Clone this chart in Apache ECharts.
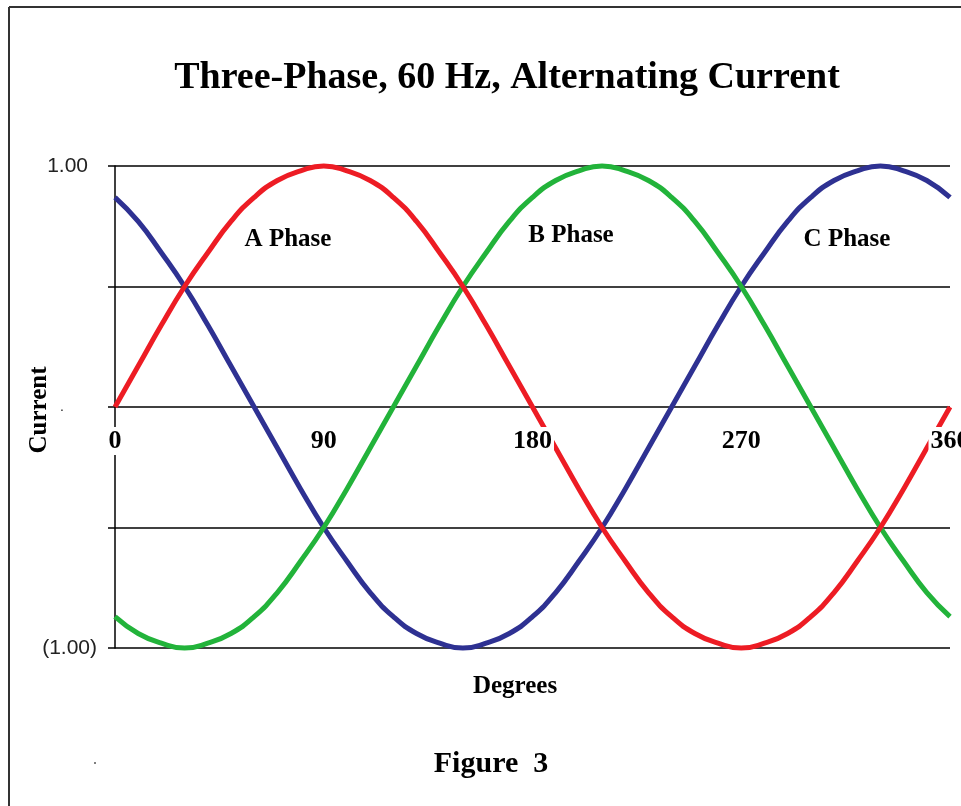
<!DOCTYPE html>
<html>
<head>
<meta charset="utf-8">
<script src="https://cdn.jsdelivr.net/npm/echarts@6/dist/echarts.min.js"></script>
<style>
  html, body { margin: 0; padding: 0; background: #fff; }
  #chart { width: 961px; height: 806px; }
</style>
</head>
<body>
<div id="chart"></div>
<script>
// Electrical angle in degrees (one full cycle)
const degrees = [0, 10, 20, 30, 40, 50, 60, 70, 80, 90, 100, 110, 120, 130, 140, 150, 160, 170, 180,
                 190, 200, 210, 220, 230, 240, 250, 260, 270, 280, 290, 300, 310, 320, 330, 340, 350, 360];

// Normalised current for each phase
const phaseA = [0.00, 0.17, 0.34, 0.50, 0.64, 0.77, 0.87, 0.94, 0.98, 1.00, 0.98, 0.94, 0.87, 0.77, 0.64, 0.50, 0.34, 0.17, 0.00,
                -0.17, -0.34, -0.50, -0.64, -0.77, -0.87, -0.94, -0.98, -1.00, -0.98, -0.94, -0.87, -0.77, -0.64, -0.50, -0.34, -0.17, 0.00];
const phaseB = [-0.87, -0.94, -0.98, -1.00, -0.98, -0.94, -0.87, -0.77, -0.64, -0.50, -0.34, -0.17, 0.00, 0.17, 0.34, 0.50, 0.64, 0.77, 0.87,
                0.94, 0.98, 1.00, 0.98, 0.94, 0.87, 0.77, 0.64, 0.50, 0.34, 0.17, 0.00, -0.17, -0.34, -0.50, -0.64, -0.77, -0.87];
const phaseC = [0.87, 0.77, 0.64, 0.50, 0.34, 0.17, 0.00, -0.17, -0.34, -0.50, -0.64, -0.77, -0.87, -0.94, -0.98, -1.00, -0.98, -0.94, -0.87,
                -0.77, -0.64, -0.50, -0.34, -0.17, 0.00, 0.17, 0.34, 0.50, 0.64, 0.77, 0.87, 0.94, 0.98, 1.00, 0.98, 0.94, 0.87];

// Axis tick labels
const xTicks = [0, 90, 180, 270, 360];
const yTickLabels = { '1': '1.00', '-1': '(1.00)', '0': '.' };

const serif = '"Liberation Serif", "Times New Roman", serif';
const sans = '"Liberation Sans", Arial, sans-serif';

function pairs(ys) { return degrees.map((d, i) => [d, ys[i]]); }

const chart = echarts.init(document.getElementById('chart'), null, { renderer: 'canvas' });

const option = {
  backgroundColor: '#ffffff',
  animation: false,
  grid: { left: 115, right: 11, top: 166, bottom: 158, containLabel: false, outerBoundsMode: 'none' },
  xAxis: {
    type: 'value',
    min: 0, max: 360, interval: 90,
    z: 5,
    // degree labels sit just under the zero line
    offset: -241,
    axisLine: { show: false, onZero: false },
    axisTick: { show: false },
    splitLine: { show: false },
    axisLabel: {
      margin: 20,
      fontFamily: serif, fontWeight: 'bold', fontSize: 26, color: '#000',
      backgroundColor: '#ffffff', padding: [1, 2, 1, 2],
      formatter: v => xTicks.indexOf(v) >= 0 ? String(v) : ''
    }
  },
  yAxis: {
    type: 'value',
    min: -1, max: 1, interval: 0.5,
    axisLine: { show: true, onZero: false, lineStyle: { color: '#000', width: 1.5 } },
    axisTick: { show: true, length: 7, lineStyle: { color: '#000', width: 1.5 } },
    splitLine: { show: true, lineStyle: { color: '#000', width: 1.5 } },
    axisLabel: {
      margin: 18,
      fontFamily: sans, fontSize: 21, color: '#222',
      formatter: v => {
        const t = yTickLabels[String(v)];
        if (t === undefined) return '';
        if (v === 1) return '{a|' + t + '}';
        if (v === 0) return '{d|' + t + '}';
        return t;
      },
      rich: {
        a: { fontFamily: sans, fontSize: 21, color: '#222', padding: [0, 9, 0, 0] },
        d: { fontFamily: sans, fontSize: 14, color: '#222', padding: [0, 33, 0, 0] }
      }
    }
  },
  series: [
    { name: 'C Phase', type: 'line', data: pairs(phaseC), smooth: true, showSymbol: false, clip: false,
      lineStyle: { color: '#2E3192', width: 5 } },
    { name: 'B Phase', type: 'line', data: pairs(phaseB), smooth: true, showSymbol: false, clip: false,
      lineStyle: { color: '#22B33A', width: 5 } },
    { name: 'A Phase', type: 'line', data: pairs(phaseA), smooth: true, showSymbol: false, clip: false,
      lineStyle: { color: '#ED1C24', width: 5 } }
  ],
  graphic: [
    // outer frame
    { type: 'line', shape: { x1: 9, y1: 7, x2: 961, y2: 7 }, style: { stroke: '#333', lineWidth: 2 } },
    { type: 'line', shape: { x1: 9, y1: 7, x2: 9, y2: 806 }, style: { stroke: '#333', lineWidth: 2 } },
    // headings
    { type: 'text', x: 507, y: 78, style: { text: 'Three-Phase, 60 Hz, Alternating Current', font: 'bold 38px ' + serif, fill: '#000', textAlign: 'center', textVerticalAlign: 'middle' } },
    { type: 'text', x: 515, y: 687, style: { text: 'Degrees', font: 'bold 25px ' + serif, fill: '#000', textAlign: 'center', textVerticalAlign: 'middle' } },
    { type: 'text', x: 40, y: 410, rotation: Math.PI / 2, style: { text: 'Current', font: 'bold 25px ' + serif, fill: '#000', textAlign: 'center', textVerticalAlign: 'middle' } },
    { type: 'text', x: 491, y: 764, style: { text: 'Figure  3', font: 'bold 30px ' + serif, fill: '#000', textAlign: 'center', textVerticalAlign: 'middle' } },
    // phase annotations
    { type: 'text', x: 288, y: 240, z: 10, style: { text: 'A Phase', font: 'bold 25px ' + serif, fill: '#000', textAlign: 'center', textVerticalAlign: 'middle' } },
    { type: 'text', x: 571, y: 236, z: 10, style: { text: 'B Phase', font: 'bold 25px ' + serif, fill: '#000', textAlign: 'center', textVerticalAlign: 'middle' } },
    { type: 'text', x: 847, y: 240, z: 10, style: { text: 'C Phase', font: 'bold 25px ' + serif, fill: '#000', textAlign: 'center', textVerticalAlign: 'middle' } },
    // stray mark
    { type: 'circle', shape: { cx: 95, cy: 763, r: 1 }, style: { fill: '#555' } }
  ]
};

chart.setOption(option);
</script>
</body>
</html>
